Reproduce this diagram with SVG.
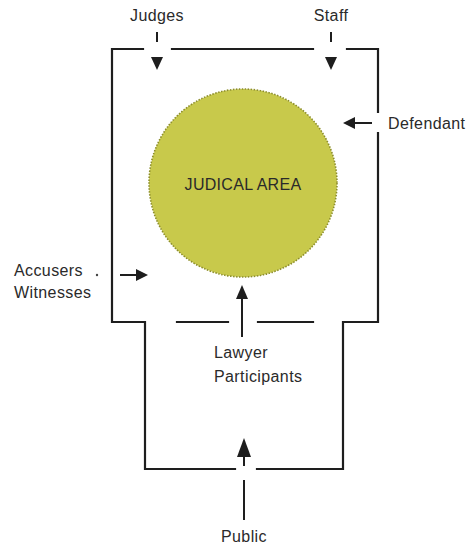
<svg xmlns="http://www.w3.org/2000/svg" width="471" height="549" viewBox="0 0 471 549">
<defs>
<style>
.wall{fill:none;stroke:#1e1e1e;stroke-width:2.2;stroke-linecap:square}
.conn{fill:none;stroke:#1e1e1e;stroke-width:2}
.head{fill:#1e1e1e}
.lbl{font-family:"Century Gothic","URW Gothic","Liberation Sans",sans-serif;font-size:16px;letter-spacing:0.4px;fill:#2a2a2a}
</style>
</defs>
<rect width="471" height="549" fill="#ffffff"/>
<g id="walls">
<path class="wall" d="M143,49 H112 V322 H145 V469 H235"/>
<path class="wall" d="M172,49 H313"/>
<path class="wall" d="M347,49 H378 V112"/>
<path class="wall" d="M378,133 V322 H343 V469 H257"/>
<path class="wall" d="M177,322 H228"/>
<path class="wall" d="M258,322 H313"/>
</g>
<g id="judical-area">
<circle cx="243" cy="183" r="94" fill="#c8c94b" stroke="#8d8e2c" stroke-width="1.6" stroke-dasharray="1.5 1.5"/>
<text class="lbl" x="243" y="190" text-anchor="middle" style="font-size:16px;letter-spacing:0.3px">JUDICAL AREA</text>
</g>
<g id="connectors">
<path class="conn" d="M157,32 V42"/>
<path class="head" d="M151,57 H163 L157,70 Z"/>
<path class="conn" d="M331,32 V42"/>
<path class="head" d="M325,57 H337 L331,70 Z"/>
<path class="conn" d="M372,123 H352"/>
<path class="head" d="M343,123 L355,117 V129 Z"/>
<path class="conn" d="M120,275 H140"/>
<path class="head" d="M148,275 L136,269 V281 Z"/>
<circle cx="97" cy="275" r="1.2" fill="#444"/>
<path class="conn" d="M242,337 V294"/>
<path class="head" d="M242,285 L236,299 H248 Z"/>
<path class="conn" d="M244,520 V480"/>
<path class="head" d="M244,438 L237,457 H251 Z"/>
<path class="conn" d="M244,455 V466"/>
</g>
<g id="judges"><text class="lbl" x="157" y="21" text-anchor="middle">Judges</text></g>
<g id="staff"><text class="lbl" x="331" y="21" text-anchor="middle">Staff</text></g>
<g id="defendant"><text class="lbl" x="388" y="129">Defendant</text></g>
<g id="accusers-witnesses"><text class="lbl" x="14" y="276">Accusers</text><text class="lbl" x="14" y="298">Witnesses</text></g>
<g id="lawyer-participants"><text class="lbl" x="214" y="358">Lawyer</text><text class="lbl" x="214" y="382">Participants</text></g>
<g id="public"><text class="lbl" x="244" y="542" text-anchor="middle">Public</text></g>
</svg>
